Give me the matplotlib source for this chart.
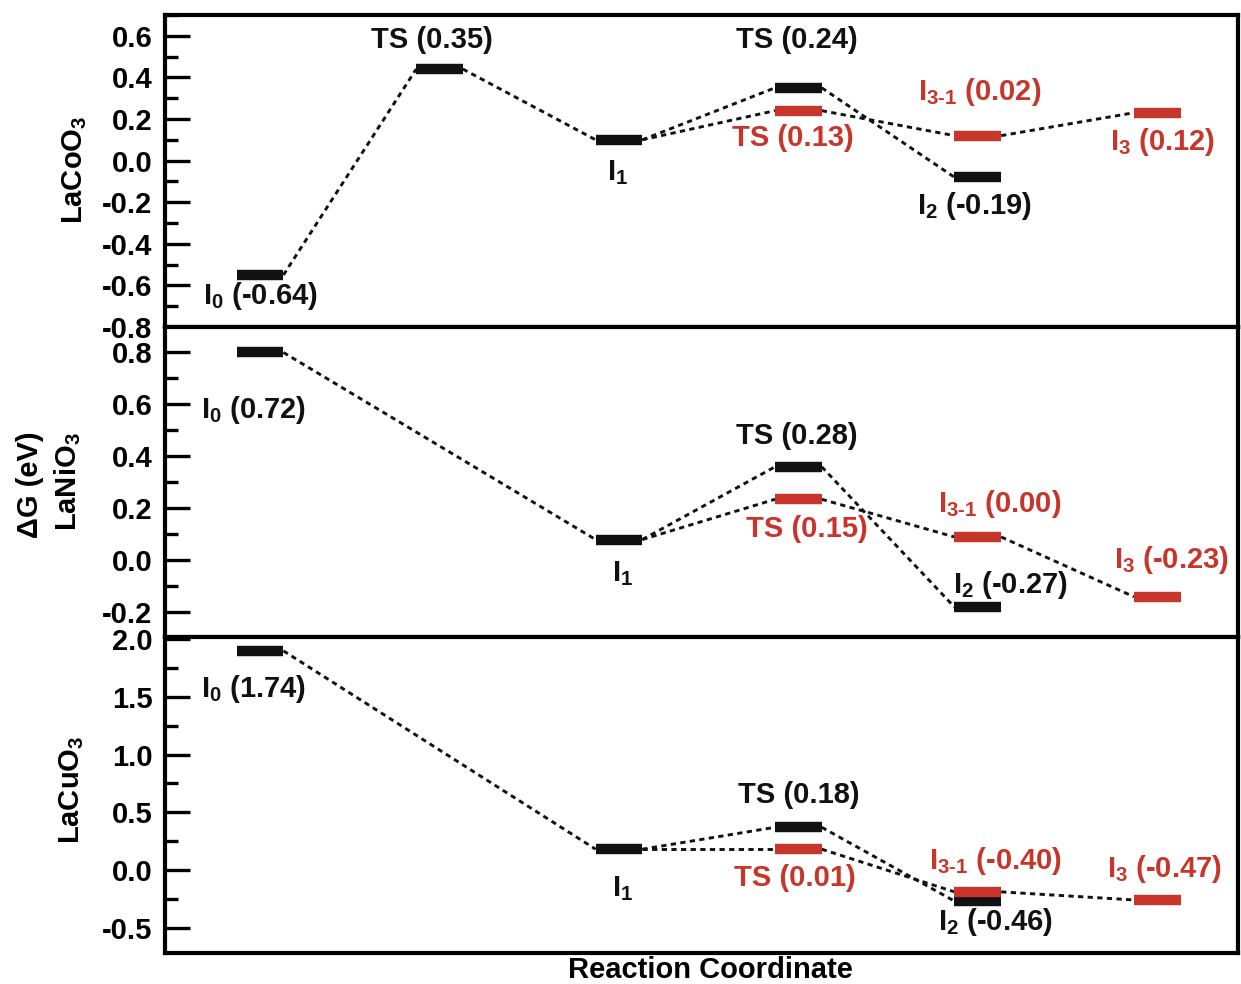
import matplotlib
matplotlib.use('Agg')
import matplotlib.pyplot as plt
from matplotlib.ticker import MultipleLocator, FuncFormatter

plt.rcParams['font.family'] = ['Liberation Sans', 'DejaVu Sans']
plt.rcParams['font.weight'] = 'bold'
plt.rcParams['mathtext.fontset'] = 'custom'
plt.rcParams['mathtext.rm'] = 'Liberation Sans:bold'
plt.rcParams['mathtext.it'] = 'Liberation Sans:bold'
plt.rcParams['mathtext.bf'] = 'Liberation Sans:bold'
plt.rcParams['mathtext.default'] = 'rm'

BLACK = '#111111'
RED = '#c8352a'

# ---------------- data ----------------
materials = ['LaCoO$_3$', 'LaNiO$_3$', 'LaCuO$_3$']

# LaCoO3
co_black_x = [1, 2, 3, 4, 5]
co_black_y = [-0.55, 0.44, 0.10, 0.35, -0.08]
co_red_x = [3, 4, 5, 6]
co_red_y = [0.10, 0.24, 0.12, 0.23]
co_labels = [r'I$_0$ (-0.64)', 'TS (0.35)', r'I$_1$', 'TS (0.24)', 'TS (0.13)',
             r'I$_{\text{3-1}}$ (0.02)', r'I$_2$ (-0.19)', r'I$_3$ (0.12)']
co_label_x = [0.68, 1.96, 2.99, 3.99, 3.97, 5.01, 4.98, 6.03]
co_label_y = [-0.65, 0.58, -0.06, 0.58, 0.11, 0.33, -0.22, 0.09]
co_label_c = ['k', 'k', 'k', 'k', 'r', 'r', 'k', 'r']
co_label_ha = ['left', 'center', 'center', 'center', 'center', 'center', 'center', 'center']

# LaNiO3
ni_black_x = [1, 3, 4, 5]
ni_black_y = [0.80, 0.08, 0.36, -0.18]
ni_red_x = [3, 4, 5, 6]
ni_red_y = [0.08, 0.235, 0.09, -0.14]
ni_labels = [r'I$_0$ (0.72)', r'I$_1$', 'TS (0.28)', 'TS (0.15)',
             r'I$_{\text{3-1}}$ (0.00)', r'I$_2$ (-0.27)', r'I$_3$ (-0.23)']
ni_label_x = [0.67, 3.02, 3.99, 4.05, 5.12, 5.18, 6.08]
ni_label_y = [0.58, -0.05, 0.48, 0.12, 0.215, -0.095, 0.0]
ni_label_c = ['k', 'k', 'k', 'r', 'r', 'k', 'r']
ni_label_ha = ['left', 'center', 'center', 'center', 'center', 'center', 'center']

# LaCuO3
cu_black_x = [1, 3, 4, 5]
cu_black_y = [1.90, 0.18, 0.37, -0.27]
cu_red_x = [3, 4, 5, 6]
cu_red_y = [0.18, 0.18, -0.19, -0.26]
cu_labels = [r'I$_0$ (1.74)', r'I$_1$', 'TS (0.18)', 'TS (0.01)',
             r'I$_{\text{3-1}}$ (-0.40)', r'I$_2$ (-0.46)', r'I$_3$ (-0.47)']
cu_label_x = [0.67, 3.02, 4.0, 3.98, 5.10, 5.10, 6.04]
cu_label_y = [1.57, -0.16, 0.65, -0.07, 0.08, -0.45, 0.01]
cu_label_c = ['k', 'k', 'k', 'r', 'r', 'k', 'r']
cu_label_ha = ['left', 'center', 'center', 'center', 'center', 'center', 'center']

ylims = [(-0.8, 0.70), (-0.295, 0.898), (-0.72, 2.02)]
major = [0.2, 0.2, 0.5]
minor = [0.1, 0.1, 0.25]

panels = [
    (co_black_x, co_black_y, co_red_x, co_red_y, co_labels, co_label_x, co_label_y, co_label_c, co_label_ha),
    (ni_black_x, ni_black_y, ni_red_x, ni_red_y, ni_labels, ni_label_x, ni_label_y, ni_label_c, ni_label_ha),
    (cu_black_x, cu_black_y, cu_red_x, cu_red_y, cu_labels, cu_label_x, cu_label_y, cu_label_c, cu_label_ha),
]

# ---------------- layout ----------------
W, H = 1241, 984
fig = plt.figure(figsize=(W / 100, H / 100), dpi=100)
left = 165 / W
right = 1238 / W
edges = [(15, 327), (327, 637), (637, 953)]

HW = 0.13  # half width of a level bar
DASH = (0, (1.8, 1.5))

for i, (bx, by, rx, ry, labs, lx, ly, lc, lha) in enumerate(panels):
    top_px, bot_px = edges[i]
    ax = fig.add_axes([left, 1 - bot_px / H, right - left, (bot_px - top_px) / H])
    ax.set_xlim(0.47, 6.45)
    ax.set_ylim(*ylims[i])

    # connectors (black path, then red branch starting at I1)
    for (xs, ys) in [(bx, by), (rx, ry)]:
        for k in range(len(xs) - 1):
            ax.plot([xs[k] + HW, xs[k + 1] - HW], [ys[k], ys[k + 1]],
                    color=BLACK, lw=2.1, linestyle=DASH, zorder=2)
    # levels
    ax.hlines(by, [x - HW for x in bx], [x + HW for x in bx], color=BLACK, lw=7.5, zorder=3)
    ax.hlines(ry[1:], [x - HW for x in rx[1:]], [x + HW for x in rx[1:]], color=RED, lw=7.5, zorder=4)

    for t, x, y, c, ha in zip(labs, lx, ly, lc, lha):
        ax.text(x, y, t, color=BLACK if c == 'k' else RED, fontsize=21,
                fontweight='bold', ha=ha, va='center', zorder=5)

    for s in ax.spines.values():
        s.set_linewidth(3.0)
    ax.set_xticks([])
    ax.yaxis.set_major_locator(MultipleLocator(major[i]))
    ax.yaxis.set_minor_locator(MultipleLocator(minor[i]))
    ax.yaxis.set_major_formatter(FuncFormatter(lambda v, p: f'{v:.1f}'))
    ax.tick_params(axis='y', which='major', direction='in', length=18, width=2.4,
                   labelsize=21, pad=9)
    ax.tick_params(axis='y', which='minor', direction='in', length=9.5, width=2.4)
    for lab in ax.get_yticklabels():
        lab.set_fontweight('bold')

# axis titles
fig.text(75 / W, 1 - 170 / H, materials[0], rotation=90, ha='center', va='center',
         fontsize=21, fontweight='bold')
fig.text(68 / W, 1 - 482 / H, materials[1], rotation=90, ha='center', va='center',
         fontsize=21, fontweight='bold')
fig.text(72 / W, 1 - 790 / H, materials[2], rotation=90, ha='center', va='center',
         fontsize=21, fontweight='bold')
fig.text(30 / W, 1 - 485 / H, 'ΔG (eV)', rotation=90, ha='center', va='center',
         fontsize=21, fontweight='bold')
fig.text(710 / W, 1 - 970 / H, 'Reaction Coordinate', ha='center', va='center',
         fontsize=21, fontweight='bold')

fig.savefig('out.png', dpi=100)
